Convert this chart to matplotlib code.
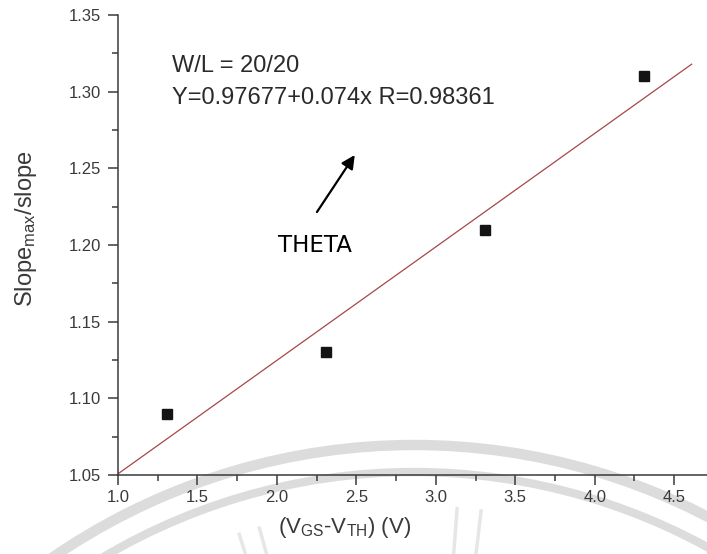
import numpy as np
import matplotlib
matplotlib.use("Agg")
import matplotlib.pyplot as plt
from matplotlib.patches import Arc

# Measured ratio versus gate overdrive
vov = [1.31, 2.31, 3.31, 4.31]
slope_ratio = [1.09, 1.13, 1.21, 1.31]

# Linear fit reported on the chart
fit_intercept = 0.97677
fit_slope = 0.074
fit_r = 0.98361
fit_x_range = [1.0, 4.61]

x_ticks = [1.0, 1.5, 2.0, 2.5, 3.0, 3.5, 4.0, 4.5]
y_ticks = [1.05, 1.10, 1.15, 1.20, 1.25, 1.30, 1.35]

plt.rcParams["font.family"] = ["Liberation Sans", "DejaVu Sans"]
plt.rcParams["mathtext.fontset"] = "custom"
plt.rcParams["mathtext.rm"] = "Liberation Sans"
plt.rcParams["mathtext.it"] = "Liberation Sans"

W, H = 707, 554
fig = plt.figure(figsize=(W / 100, H / 100), dpi=100)
fig.patch.set_facecolor("white")

# faint watermark rings behind the plot
cx, cy = 414, H - 1082
for r, lw in [(637, 7.5), (610, 6.0)]:
    fig.patches.append(Arc((cx / W, cy / H), 2 * r / W, 2 * r / H,
                           theta1=30, theta2=150, transform=fig.transFigure,
                           color="#dcdcdc", lw=lw, zorder=0))
# faint rays of the emblem
for ang in [107.7, 105.6, 85.7, 83.3]:
    a = np.deg2rad(ang)
    r0, r1 = 530, 575
    fig.add_artist(plt.Line2D([(cx + r0 * np.cos(a)) / W, (cx + r1 * np.cos(a)) / W],
                              [(cy + r0 * np.sin(a)) / H, (cy + r1 * np.sin(a)) / H],
                              transform=fig.transFigure, color="#e6e6e6", lw=2.5, zorder=0))

left, bottom = 118 / W, (H - 475) / H
ax = fig.add_axes([left, bottom, 1 - left, 460 / H])
ax.set_zorder(2)
ax.patch.set_visible(False)

ax.set_xlim(1.0, 1.0 + (W - 118) / 158.9)
ax.set_ylim(1.05, 1.35)

fx = np.array(fit_x_range)
ax.plot(fx, fit_intercept + fit_slope * fx, color="#a8464a", lw=0.9, zorder=2)
ax.plot(vov, slope_ratio, "s", color="#141414", ms=7.2, zorder=3)

for s in ["top", "right"]:
    ax.spines[s].set_visible(False)
for s in ["left", "bottom"]:
    ax.spines[s].set_color("#3a3a3a")
    ax.spines[s].set_linewidth(1.1)

ax.set_xticks(x_ticks)
ax.set_xticklabels([f"{v:.1f}" for v in x_ticks])
ax.set_yticks(y_ticks)
ax.set_yticklabels([f"{v:.2f}" for v in y_ticks])
ax.set_xticks([v + 0.25 for v in x_ticks[:-1]], minor=True)
ax.set_yticks([v + 0.025 for v in y_ticks[:-1]], minor=True)
ax.tick_params(which="major", direction="out", length=7, width=1.1,
               color="#3a3a3a", labelsize=12, labelcolor="#3a3a3a")
ax.tick_params(axis="y", which="major", pad=5.5)
ax.tick_params(axis="x", which="major", pad=3.5)
ax.tick_params(which="minor", direction="out", length=4.5, width=1.1, color="#3a3a3a")

fig.text(345 / W, 1 - 527 / H, r"(V$_{\mathregular{GS}}$-V$_{\mathregular{TH}}$) (V)",
         ha="center", va="center", fontsize=16, color="#3a3a3a", zorder=3)
fig.text(26 / W, 1 - 229 / H, r"Slope$_{\mathregular{max}}$/slope",
         ha="center", va="center", rotation=90, fontsize=17, color="#3a3a3a", zorder=3)

fig.text(172 / W, 1 - 71.5 / H, "W/L = 20/20", fontsize=17,
         va="baseline", color="#2a2a2a", zorder=3)
fig.text(172 / W, 1 - 103.5 / H,
         f"Y={fit_intercept}+{fit_slope}x R={fit_r}", fontsize=17,
         va="baseline", color="#2a2a2a", zorder=3)

theta_tail = (2.252, 1.2215)
theta_tip = (2.49, 1.2587)
ax.annotate("", xy=theta_tip, xytext=theta_tail,
            arrowprops=dict(arrowstyle="-|>", color="black", lw=1.6,
                            mutation_scale=20, shrinkA=0, shrinkB=0))
fig.text(278 / W, 1 - 251.5 / H, "THETA", fontsize=16.5,
         family="DejaVu Sans", va="baseline", color="black", zorder=3)

fig.savefig("out.png", dpi=100)
